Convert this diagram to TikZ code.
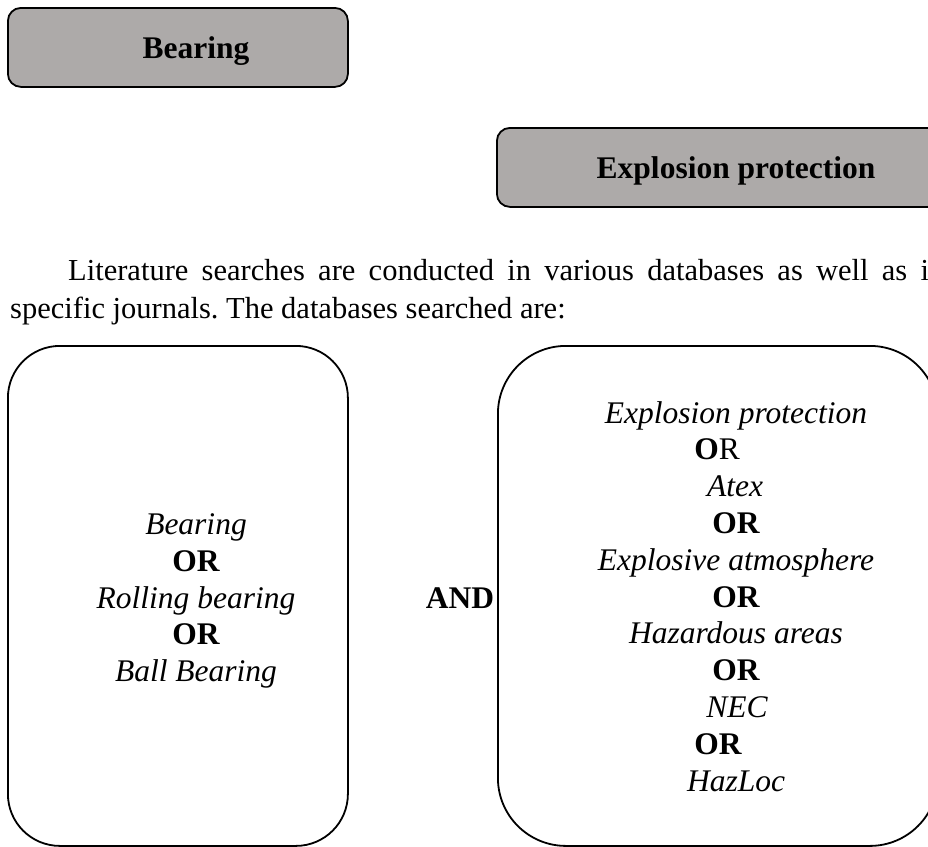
\documentclass[tikz,border=0pt]{standalone}
\usepackage{fontspec}
\setmainfont{Liberation Serif}
\usetikzlibrary{positioning}
\definecolor{headgray}{RGB}{173,170,169}
\frenchspacing

\tikzset{
  headbox/.style={draw, line width=1.8pt, fill=headgray, rounded corners=13pt,
    minimum height=79pt, inner sep=0pt, anchor=north west},
  termbox/.style={draw, line width=1.8pt, minimum height=500pt, inner sep=0pt,
    anchor=north west},
  headtxt/.style={anchor=base, inner sep=0pt, font=\fontsize{31.5}{36}\selectfont\bfseries},
  term/.style={anchor=base, inner sep=0pt, font=\fontsize{31.5}{36}\selectfont\itshape},
  op/.style={anchor=base, inner sep=0pt, font=\fontsize{31.5}{36}\selectfont\bfseries},
  opmix/.style={anchor=base, inner sep=0pt, font=\fontsize{31.5}{36}\selectfont},
}

\begin{document}
\begin{tikzpicture}[x=1pt,y=-1pt]
  \useasboundingbox (0,0) rectangle (928,846);
  \clip (0,0) rectangle (928,846);

  % headings
  \node[headbox, minimum width=340pt] (bearinghead) at (7,7) {};
  \node[headtxt] (bearingtitle) at (196,58) {Bearing};
  \node[headbox, minimum width=444pt] (exhead) at (496,127) {};
  \node[headtxt] (extitle) at (736,178) {Explosion protection};

  % paragraph
  \node[anchor=base west, text width=934pt, inner sep=0pt, align=justify,
    font=\fontsize{30.5}{38}\selectfont] (intro) at (10,280)
    {\hspace*{58pt}Literature searches are conducted in various databases as well as in\linebreak
     specific journals. The databases searched are:};

  % search term boxes
  \node[termbox, rounded corners=52pt, minimum width=340pt] (bearingbox) at (7,345) {};
  \node[termbox, rounded corners=68pt, minimum width=440pt] (exbox) at (497,345) {};

  \foreach \txt/\kind [count=\i] in {Bearing/term, OR/op, Rolling bearing/term,
      OR/op, Ball Bearing/term}
    \node[\kind] (bear\i) at (196,{534.4+36.8*(\i-1)}) {\txt};

  \node[op] (and) at (460,608) {AND};

  \foreach \txt/\kind/\xx [count=\i] in {Explosion protection/term/736,
      \textbf{O}R/opmix/717, Atex/term/735, OR/op/736,
      Explosive atmosphere/term/736, OR/op/736, Hazardous areas/term/736,
      OR/op/736, NEC/term/737, OR/op/718, HazLoc/term/736}
    \node[\kind] (ex\i) at (\xx,{423+36.8*(\i-1)}) {\txt};
\end{tikzpicture}
\end{document}
